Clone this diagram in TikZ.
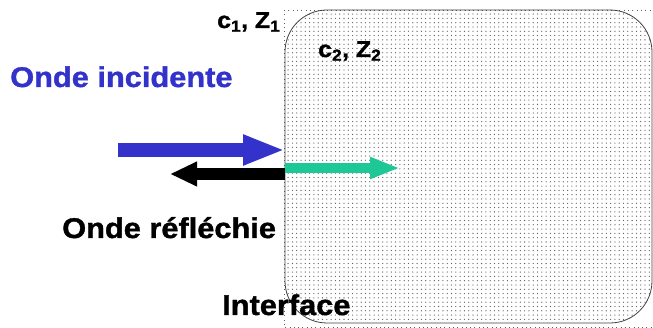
\documentclass[tikz,border=0pt]{standalone}
\usepackage{fontspec}
\setmainfont{Liberation Sans}[FakeStretch=1.08]
\newfontfamily\heavyfont{Liberation Sans}[FakeStretch=1.08,BoldFeatures={FakeBold=1.3}]
\usetikzlibrary{arrows.meta,patterns.meta}
\definecolor{incblue}{RGB}{51,51,204}
\definecolor{trgreen}{RGB}{30,200,150}
\definecolor{dotgray}{RGB}{95,95,95}

\tikzdeclarepattern{
  name=meddots,
  type=uncolored,
  bounding box={(-1pt,-1pt) and (1pt,1pt)},
  tile size={(4.3pt,4.3pt)},
  code={\pgfpathcircle{\pgfpointorigin}{0.65pt}\pgfusepath{fill}}
}

\begin{document}
\begin{tikzpicture}[x=1pt,y=-1pt,
    lbl/.style={anchor=base west, inner sep=0pt, font=\heavyfont\fontsize{28.5}{30}\selectfont\bfseries},
    medlbl/.style={anchor=base west, inner sep=0pt, font=\heavyfont\fontsize{23}{25}\selectfont\bfseries},
    border/.style={dotgray, line width=0.8pt, dash pattern=on 0.8pt off 3.5pt}]
    \useasboundingbox (0,0) rectangle (653,328);
    % second medium
    \draw[border] (284,10) -- (653,10);
    \draw[border] (284,10) -- (284,327) -- (653,327);
    \draw[black!75, line width=0.8pt, rounded corners=42pt, pattern=meddots, pattern color=dotgray]
      (285,10) rectangle (652,323);
    % waves
    \coordinate (incstart) at (118,150);
    \coordinate (hit) at (285,150);
    \coordinate (reflstart) at (285,174);
    \coordinate (reflend) at (170,174);
    \coordinate (trstart) at (285,168);
    \coordinate (trend) at (400,168);
    \draw[incblue, line width=14pt, -{Triangle[length=42pt,width=28pt]}] (incstart) -- (hit);
    \draw[black, line width=12pt, -{Triangle[length=27pt,width=23pt]}] (reflstart) -- (reflend);
    \draw[trgreen, line width=10pt, -{Triangle[length=30pt,width=20pt]}] (trstart) -- (trend);
    % labels
    \node[lbl, text=incblue] (inc) at (10,87) {Onde incidente};
    \node[lbl] (refl) at (62,238) {Onde réfléchie};
    \node[lbl] (iface) at (222,315) {Interface};
    \node[medlbl] (med1) at (217,28) {c\textsubscript{1}, Z\textsubscript{1}};
    \node[medlbl] (med2) at (318,57) {c\textsubscript{2}, Z\textsubscript{2}};
\end{tikzpicture}
\end{document}
